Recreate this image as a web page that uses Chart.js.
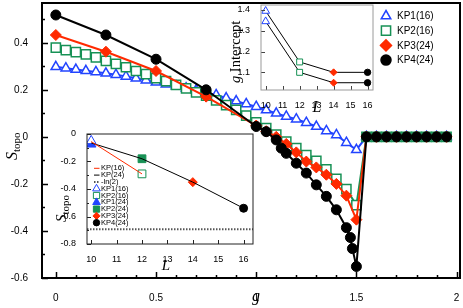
<!DOCTYPE html>
<html>
<head>
<meta charset="utf-8">
<script src="https://cdn.jsdelivr.net/npm/chart.js@4.4.0/dist/chart.umd.min.js"></script>
<style>
  body { margin: 0; background: #fff; }
  #wrap { position: relative; width: 463px; height: 308px; }
  canvas { position: absolute; }
</style>
</head>
<body>
<div id="wrap">
  <canvas id="main" width="463" height="308" style="left:0;top:0"></canvas>
  <canvas id="inset1" width="150" height="115" style="left:230px;top:0"></canvas>
  <canvas id="inset2" width="210" height="150" style="left:50px;top:125px"></canvas>
</div>
<script>
// --- main panel: S_topo vs g ---
const gKP16 = [0, 0.05, 0.1, 0.15, 0.2, 0.25, 0.3, 0.35, 0.4, 0.45, 0.5, 0.55, 0.6, 0.65, 0.7, 0.75, 0.8, 0.85, 0.9, 0.95,
               1.0, 1.05, 1.1, 1.15, 1.2, 1.25, 1.3, 1.35, 1.4, 1.45, 1.5, 1.55, 1.6, 1.65, 1.7, 1.75, 1.8, 1.85, 1.9, 1.95];
const kp1Vals = [0.298, 0.292, 0.286, 0.281, 0.276, 0.27, 0.264, 0.257, 0.249, 0.241, 0.232, 0.224, 0.216, 0.207, 0.198, 0.188, 0.178, 0.165, 0.152, 0.14,
                 0.128, 0.114, 0.1, 0.087, 0.075, 0.06, 0.044, 0.025, 0.008, -0.025, -0.055, 0, 0, 0, 0, 0, 0, 0, 0, 0];
const kp2Vals = [0.379, 0.369, 0.36, 0.351, 0.338, 0.323, 0.31, 0.296, 0.28, 0.267, 0.25, 0.237, 0.221, 0.206, 0.189, 0.175, 0.155, 0.135, 0.115, 0.09,
                 0.062, 0.037, 0.01, -0.02, -0.048, -0.078, -0.102, -0.138, -0.178, -0.222, -0.29, 0, 0, 0, 0, 0, 0, 0, 0, 0];
const gKP3 = [0, 0.25, 0.5, 0.75, 1.0, 1.05, 1.1, 1.15, 1.2, 1.25, 1.3, 1.35, 1.4, 1.45, 1.5, 1.55, 1.6, 1.65, 1.7, 1.75, 1.8, 1.85, 1.9, 1.95];
const kp3Vals = [0.433, 0.362, 0.28, 0.171, 0.048, 0.024, 0.0, -0.03, -0.066, -0.105, -0.13, -0.161, -0.2, -0.25, -0.352, 0, 0, 0, 0, 0, 0, 0, 0, 0];
const gKP4 = [0, 0.25, 0.5, 0.75, 1.0, 1.05, 1.1, 1.125, 1.15, 1.2, 1.25, 1.3, 1.35, 1.4, 1.45, 1.47, 1.48, 1.5,
              1.55, 1.6, 1.65, 1.7, 1.75, 1.8, 1.85, 1.9, 1.95];
const kp4Vals = [0.518, 0.433, 0.33, 0.2, 0.044, 0.022, -0.013, -0.048, -0.07, -0.112, -0.154, -0.204, -0.253, -0.31, -0.386, -0.428, -0.475, -0.551,
                 0, 0, 0, 0, 0, 0, 0, 0, 0];
const gTicks = [0, 0.5, 1, 1.5, 2];
const gMinor = [0.1, 0.2, 0.3, 0.4, 0.6, 0.7, 0.8, 0.9, 1.1, 1.2, 1.3, 1.4, 1.6, 1.7, 1.8, 1.9];
const sTicks = [-0.6, -0.4, -0.2, 0, 0.2, 0.4];
const sMinor = [-0.5, -0.3, -0.1, 0.1, 0.3, 0.5];

// --- inset 1: g intercept vs L ---
const interceptL = [10, 12, 14, 16];
const interceptUpper = [1.395, 1.15, 1.1, 1.1];
const interceptLower = [1.345, 1.1, 1.05, 1.05];
const interceptLTicks = [10, 11, 12, 13, 14, 15, 16];
const interceptTicks = [1.1, 1.2, 1.3, 1.4];

// --- inset 2: S_topo vs L ---
const fitL16 = [10, 12];
const fit16 = [-0.055, -0.29];
const fitL24 = [10, 12, 14, 16];
const fit24 = [-0.065, -0.18, -0.35, -0.54];
const kp1_16 = [10, -0.05];
const kp2_16 = [12, -0.29];
const kp1_24 = [10, -0.075];
const kp2_24 = [12, -0.18];
const kp3_24 = [14, -0.35];
const kp4_24 = [16, -0.54];
const stopoLTicks = [10, 11, 12, 13, 14, 15, 16];
const stopoTicks = [-0.8, -0.6, -0.4, -0.2, 0];
const stopoMinor = [-0.7, -0.5, -0.3, -0.1];

const BLUE = '#2244ff', GREEN = '#179155', RED = '#ff2a00', BLACK = '#000';
const SANS = 'Liberation Sans', SERIF = 'Liberation Serif';

const pts = (xs, ys) => xs.map((x, i) => ({ x: x, y: ys[i] }));

// frame + inward ticks, white background for insets
const frameTicks = {
    id: 'frameTicks',
    beforeDraw(chart, args, o) {
        if (!o.fill) return;
        const a = chart.chartArea, ctx = chart.ctx;
        ctx.save();
        ctx.fillStyle = o.fill;
        ctx.fillRect(a.left, a.top, a.right - a.left, a.bottom - a.top);
        ctx.restore();
    },
    afterDraw(chart, args, o) {
        const { ctx, chartArea: a } = chart;
        const x = chart.scales.x, y = chart.scales.y;
        ctx.save();
        ctx.strokeStyle = o.tickColor || '#000';
        ctx.lineWidth = o.tickWidth || 1;
        ctx.beginPath();
        const xt = (vals, len) => (vals || []).forEach(v => {
            const p = Math.round(x.getPixelForValue(v)) + 0.5;
            ctx.moveTo(p, a.bottom); ctx.lineTo(p, a.bottom - len);
        });
        const yt = (vals, len) => (vals || []).forEach(v => {
            const p = Math.round(y.getPixelForValue(v)) + 0.5;
            ctx.moveTo(a.left, p); ctx.lineTo(a.left + len, p);
        });
        xt(o.xMajor, o.major); xt(o.xMinor, o.minor);
        yt(o.yMajor, o.major); yt(o.yMinor, o.minor);
        ctx.stroke();
        ctx.strokeStyle = o.frameColor || '#000';
        ctx.lineWidth = o.frameWidth || 1;
        ctx.strokeRect(a.left, a.top, a.right - a.left, a.bottom - a.top);
        ctx.restore();
    }
};

// rotated label made of parts (italic letter + subscript)
function rotLabel(ctx, x, y, parts) {
    ctx.save();
    ctx.translate(x, y);
    ctx.rotate(-Math.PI / 2);
    ctx.fillStyle = '#000';
    ctx.textBaseline = 'alphabetic';
    let cx = 0;
    parts.forEach(p => {
        ctx.font = p.font;
        ctx.fillText(p.text, cx, p.dy || 0);
        cx += ctx.measureText(p.text).width;
    });
    ctx.restore();
}

function marker(ctx, style, r, x, y, stroke, fill, bw) {
    ctx.save();
    ctx.strokeStyle = stroke;
    ctx.fillStyle = fill;
    ctx.lineWidth = bw;
    Chart.helpers.drawPoint(ctx, { pointStyle: style, radius: r, rotation: 0, borderWidth: bw }, x, y);
    ctx.restore();
}

// fixed-size linear axis, no automatic label padding
function linearScale(min, max, ticks, size, horiz, pad, fontSize) {
    return {
        type: 'linear', min: min, max: max,
        grid: { display: false }, border: { display: false },
        afterBuildTicks: sc => { sc.ticks = ticks.map(v => ({ value: v })); },
        afterFit: sc => {
            if (horiz) sc.height = size; else sc.width = size;
            sc.paddingTop = 0; sc.paddingBottom = 0; sc.paddingLeft = 0; sc.paddingRight = 0;
        },
        ticks: { color: '#000', font: { family: SANS, size: fontSize }, padding: pad,
                 maxRotation: 0, autoSkip: false, callback: v => String(v) }
    };
}

const baseOpts = { responsive: false, animation: false, events: [] };

// ---------- main chart ----------
const mainLegend = [
    { label: 'KP1(16)', style: 'triangle', r: 5.5, stroke: BLUE, fill: '#fff' },
    { label: 'KP2(16)', style: 'rect', r: 6.5, stroke: GREEN, fill: '#fff' },
    { label: 'KP3(24)', style: 'rectRot', r: 5.5, stroke: RED, fill: RED },
    { label: 'KP4(24)', style: 'circle', r: 5, stroke: BLACK, fill: BLACK }
];

new Chart(document.getElementById('main'), {
    type: 'line',
    data: {
        datasets: [
            { data: pts(gKP16, kp1Vals), borderColor: BLUE, backgroundColor: '#fff', pointStyle: 'triangle',
              pointRadius: 5.5, pointBorderWidth: 1.5, borderWidth: 2, order: 4 },
            { data: pts(gKP16, kp2Vals), borderColor: GREEN, backgroundColor: '#fff', pointStyle: 'rect',
              pointRadius: 6.5, pointBorderWidth: 1.5, borderWidth: 2, order: 3 },
            { data: pts(gKP3, kp3Vals), borderColor: RED, backgroundColor: RED, pointStyle: 'rectRot',
              pointRadius: 5.5, pointBorderWidth: 1, borderWidth: 2, order: 2 },
            { data: pts(gKP4, kp4Vals), borderColor: BLACK, backgroundColor: BLACK, pointStyle: 'circle',
              pointRadius: 5, pointBorderWidth: 1, borderWidth: 2, order: 1 }
        ]
    },
    options: Object.assign({}, baseOpts, {
        layout: { autoPadding: false, padding: { top: 3, right: 3, left: 0, bottom: 0 } },
        elements: { line: { tension: 0 } },
        scales: {
            x: linearScale(-0.069, 2.017, gTicks, 30, true, 6, 10),
            y: linearScale(-0.6, 0.569, sTicks, 42, false, 6, 10)
        },
        plugins: {
            legend: { display: false }, tooltip: { enabled: false },
            frameTicks: { xMajor: gTicks, xMinor: gMinor, yMajor: sTicks, yMinor: sMinor,
                          major: 6, minor: 3, tickWidth: 1.5, frameWidth: 2 }
        }
    }),
    plugins: [frameTicks, {
        id: 'mainText',
        afterDraw(chart) {
            const ctx = chart.ctx;
            ctx.save();
            ctx.fillStyle = '#000';
            ctx.font = 'italic 16px ' + SERIF;
            ctx.textAlign = 'center';
            ctx.fillText('g', 256, 301);
            ctx.restore();
            rotLabel(ctx, 17, 160, [
                { text: 'S', font: 'italic 16px ' + SERIF },
                { text: 'topo', font: '11px ' + SERIF, dy: 3 }
            ]);
            ctx.save();
            ctx.font = '10px ' + SANS;
            ctx.textBaseline = 'middle';
            mainLegend.forEach((e, i) => {
                const yy = 16 + i * 14.7;
                marker(ctx, e.style, e.r, 386, yy, e.stroke, e.fill, 1.5);
                ctx.fillStyle = '#000';
                ctx.fillText(e.label, 397, yy + 0.5);
            });
            ctx.restore();
        }
    }]
});

// ---------- inset 1 ----------
const insetStyles = ['triangle', 'rect', 'rectRot', 'circle'];
const insetStroke = [BLUE, GREEN, RED, BLACK];
const insetFill = ['#fff', '#fff', RED, BLACK];
const insetRadius = [4.5, 4.2, 3.5, 3.2];

new Chart(document.getElementById('inset1'), {
    type: 'line',
    data: {
        datasets: [interceptUpper, interceptLower].map(vals => ({
            data: pts(interceptL, vals), borderColor: BLACK, borderWidth: 1,
            pointStyle: insetStyles, pointBorderColor: insetStroke, pointBackgroundColor: insetFill,
            pointRadius: insetRadius, pointBorderWidth: 1
        }))
    },
    options: Object.assign({}, baseOpts, {
        layout: { autoPadding: false, padding: { top: 5, right: 7, left: 0, bottom: 0 } },
        elements: { line: { tension: 0 } },
        scales: {
            x: linearScale(9.725, 16.32, interceptLTicks, 25, true, 2, 9),
            y: linearScale(1.015, 1.424, interceptTicks, 31, false, 3, 9)
        },
        plugins: {
            legend: { display: false }, tooltip: { enabled: false },
            frameTicks: { fill: '#fff', xMajor: interceptLTicks, yMajor: interceptTicks,
                          major: 4, minor: 2, tickColor: '#444', frameColor: '#9a9a9a', frameWidth: 1 }
        }
    }),
    plugins: [frameTicks, {
        id: 'inset1Text',
        afterDraw(chart) {
            const ctx = chart.ctx;
            ctx.save();
            ctx.fillStyle = '#000';
            ctx.font = 'italic 16px ' + SERIF;
            ctx.textAlign = 'center';
            ctx.fillText('L', 87, 112);
            ctx.restore();
            rotLabel(ctx, 10, 83, [
                { text: 'g', font: 'italic 14.5px ' + SERIF },
                { text: ' Intercept', font: '14.5px ' + SERIF }
            ]);
        }
    }]
});

// ---------- inset 2 ----------
const markerSets = [
    { p: kp1_16, label: 'KP1(16)', style: 'triangle', r: 5.5, stroke: BLUE, fill: '#fff' },
    { p: kp2_16, label: 'KP2(16)', style: 'rect', r: 5.5, stroke: GREEN, fill: '#fff' },
    { p: kp1_24, label: 'KP1(24)', style: 'triangle', r: 5.5, stroke: BLUE, fill: BLUE },
    { p: kp2_24, label: 'KP2(24)', style: 'rect', r: 5.5, stroke: GREEN, fill: GREEN },
    { p: kp3_24, label: 'KP3(24)', style: 'rectRot', r: 4.5, stroke: RED, fill: RED },
    { p: kp4_24, label: 'KP4(24)', style: 'circle', r: 4, stroke: BLACK, fill: BLACK }
];
const lnMin = 9.835, lnMax = 16.37;

new Chart(document.getElementById('inset2'), {
    type: 'line',
    data: {
        datasets: [
            { data: pts(fitL16, fit16), borderColor: RED, borderWidth: 1, pointRadius: 0 },
            { data: pts(fitL24, fit24), borderColor: BLACK, borderWidth: 1, pointRadius: 0 },
            { data: pts([lnMin, lnMax], [-Math.log(2), -Math.log(2)]), borderColor: '#555', borderWidth: 2,
              borderDash: [1.5, 1.5], pointRadius: 0 }
        ].concat(markerSets.map(m => ({
            data: [{ x: m.p[0], y: m.p[1] }], showLine: false, pointStyle: m.style, pointRadius: m.r,
            pointBorderColor: m.stroke, pointBackgroundColor: m.fill, pointBorderWidth: 1
        })))
    },
    options: Object.assign({}, baseOpts, {
        layout: { autoPadding: false, padding: { top: 9, right: 7, left: 0, bottom: 0 } },
        elements: { line: { tension: 0 } },
        scales: {
            x: linearScale(lnMin, lnMax, stopoLTicks, 31, true, 2, 9),
            y: linearScale(-0.8, 0, stopoTicks, 37, false, 3, 9)
        },
        plugins: {
            legend: { display: false }, tooltip: { enabled: false },
            frameTicks: { fill: '#fff', xMajor: stopoLTicks, yMajor: stopoTicks, yMinor: stopoMinor,
                          major: 4, minor: 2, tickColor: '#222', frameColor: '#222', frameWidth: 1 }
        }
    }),
    plugins: [frameTicks, {
        id: 'inset2Text',
        afterDraw(chart) {
            const ctx = chart.ctx;
            ctx.save();
            ctx.fillStyle = '#000';
            ctx.font = 'italic 15px ' + SERIF;
            ctx.textAlign = 'center';
            ctx.fillText('L', 116, 145);
            ctx.restore();
            rotLabel(ctx, 16, 97, [
                { text: 'S', font: 'italic 15px ' + SERIF },
                { text: 'topo', font: '11px ' + SERIF, dy: 3 }
            ]);
            // legend
            ctx.save();
            ctx.font = '7.5px ' + SANS;
            ctx.textBaseline = 'middle';
            const lx = 46.5, tx = 51;
            let yy = 43.3;
            const step = 6.8;
            [[RED, []], [BLACK, []], ['#555', [1.5, 1.5]]].forEach((l, i) => {
                ctx.strokeStyle = l[0];
                ctx.lineWidth = i === 2 ? 2 : 1;
                ctx.setLineDash(l[1]);
                ctx.beginPath();
                ctx.moveTo(lx - 2.5, yy); ctx.lineTo(lx + 3, yy);
                ctx.stroke();
                ctx.setLineDash([]);
                ctx.fillStyle = '#000';
                ctx.fillText(['KP(16)', 'KP(24)', '-ln(2)'][i], tx, yy);
                yy += step;
            });
            markerSets.forEach(m => {
                marker(ctx, m.style, m.r * 0.8, lx, yy, m.stroke, m.fill, 1);
                ctx.fillStyle = '#000';
                ctx.fillText(m.label, tx, yy);
                yy += step;
            });
            ctx.restore();
        }
    }]
});
</script>
</body>
</html>
